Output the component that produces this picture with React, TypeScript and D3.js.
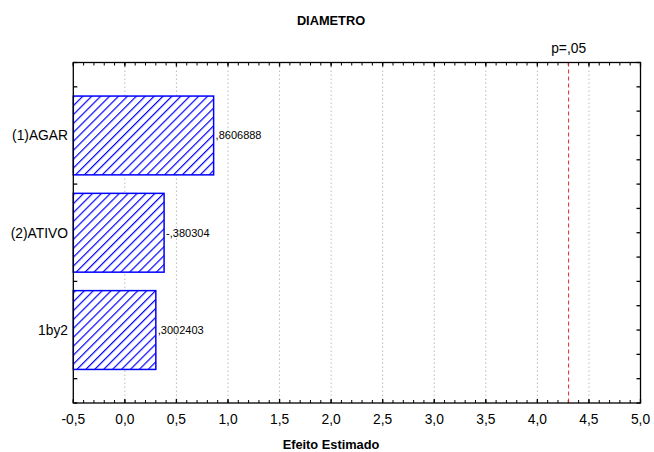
import React from "react";
import * as d3 from "d3";

const categories = ["(1)AGAR", "(2)ATIVO", "1by2"];
const effects = [0.8606888, -0.380304, 0.3002403];
const valueLabels = [",8606888", "-,380304", ",3002403"];
const xTicks = [-0.5, 0, 0.5, 1, 1.5, 2, 2.5, 3, 3.5, 4, 4.5, 5];
const pCritical = 4.303;
const pLabel = "p=,05";
const title = "DIAMETRO";
const xTitle = "Efeito Estimado";

const W = 654;
const H = 452;
const L = 73.3;
const R = 640.5;
const T = 62.5;
const B = 403;

export default function App() {
  const x = d3.scaleLinear().domain([-0.5, 5]).range([L, R]);
  const y = d3.scaleLinear().domain([0.25, 3.75]).range([B, T]);
  const catPos = categories.map((_, i) => 3 - i);
  const barHalf = 0.405;
  const fmt = (v: number) => d3.format(".1f")(v).replace(".", ",").replace("\u2212", "-");
  const minor = d3.range(-0.5, 5.0001, 0.1);
  const yMinor = d3.range(0.25, 3.7501, 0.25);
  const font = "'Liberation Sans', Arial, sans-serif";
  const hs = 6.3;

  return (
    <svg width={W} height={H} style={{ position: "absolute", left: 0, top: 0, background: "#fff" }} fontFamily={font}>
      <defs>
        <pattern id="hatch" patternUnits="userSpaceOnUse" width={hs} height={hs} patternTransform="rotate(45)">
          <rect width={hs} height={hs} fill="#fff" />
          <line x1={0} y1={0} x2={0} y2={hs} stroke="#0000ff" strokeWidth={2.4} />
        </pattern>
      </defs>
      <rect x={0} y={0} width={W} height={H} fill="#fff" />
      <text x={331} y={25} textAnchor="middle" fontSize={12.8} fontWeight="bold">{title}</text>
      {xTicks.slice(1, -1).map((t) => (
        <line key={"g" + t} x1={x(t)} x2={x(t)} y1={T} y2={B} stroke="#bbb" strokeWidth={1} strokeDasharray="1.5,2.5" />
      ))}
      {minor.map((t, i) => (
        <g key={"m" + i}>
          <line x1={x(t)} x2={x(t)} y1={B} y2={B - 3} stroke="#000" />
          <line x1={x(t)} x2={x(t)} y1={T} y2={T + 3} stroke="#000" />
        </g>
      ))}
      {xTicks.map((t) => (
        <g key={"M" + t}>
          <line x1={x(t)} x2={x(t)} y1={B} y2={B - 4} stroke="#000" strokeWidth={1.3} />
          <line x1={x(t)} x2={x(t)} y1={T} y2={T + 4} stroke="#000" strokeWidth={1.3} />
          <text x={x(t)} y={424} textAnchor="middle" fontSize={13.8}>{fmt(t)}</text>
        </g>
      ))}
      {yMinor.map((t, i) => (
        <g key={"y" + i}>
          <line x1={L} x2={L + 4} y1={y(t)} y2={y(t)} stroke="#000" strokeWidth={1.3} />
          <line x1={R} x2={R - 4} y1={y(t)} y2={y(t)} stroke="#000" strokeWidth={1.3} />
        </g>
      ))}
      {effects.map((v, i) => {
        const y0 = y(catPos[i] + barHalf);
        const y1 = y(catPos[i] - barHalf);
        const x1 = x(Math.abs(v));
        return (
          <g key={"b" + i}>
            <rect x={L} y={y0} width={x1 - L} height={y1 - y0} fill="url(#hatch)" stroke="#0000ff" strokeWidth={1.5} />
            <text x={x1 + 2} y={y(catPos[i]) + 4} fontSize={11}>{valueLabels[i]}</text>
            <text x={68} y={y(catPos[i]) + 5} textAnchor="end" fontSize={13.8}>{categories[i]}</text>
          </g>
        );
      })}
      <line x1={x(pCritical)} x2={x(pCritical)} y1={T} y2={B} stroke="#ee2222" strokeWidth={1} strokeDasharray="4,3" />
      <text x={x(pCritical)} y={52.5} textAnchor="middle" fontSize={13.8}>{pLabel}</text>
      <rect x={L} y={T} width={R - L} height={B - T} fill="none" stroke="#000" strokeWidth={1.3} />
      <text x={331} y={449} textAnchor="middle" fontSize={12.8} fontWeight="bold">{xTitle}</text>
    </svg>
  );
}
